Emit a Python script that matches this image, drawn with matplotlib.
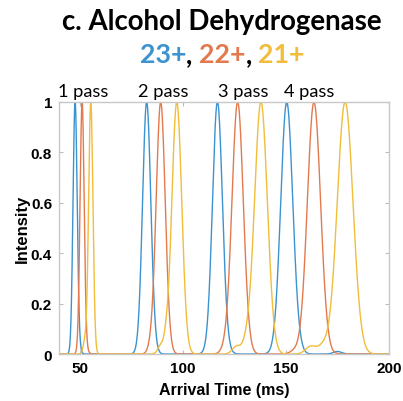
import numpy as np
import matplotlib
matplotlib.use("Agg")
import matplotlib.pyplot as plt

# ---- data ----
charges = ["23+", "22+", "21+"]
colors = ["#3b93d0", "#e27a4e", "#f1bd3a"]

# main peak centres (ms) per pass, per charge state
centers_23 = [47.8, 82.5, 116.8, 150.4]
centers_22 = [51.2, 89.3, 126.6, 163.6]
centers_21 = [55.4, 97.1, 137.9, 178.7]
# peak widths (sigma, ms)
sigmas_23 = [1.0, 2.0, 2.4, 2.9]
sigmas_22 = [1.0, 2.2, 2.75, 3.2]
sigmas_21 = [1.05, 2.4, 3.1, 3.8]
# small shoulders: centre, height, width
shoulders_23 = [(49.5, 0.02, 1.0), (86.0, 0.01, 1.5), (121.0, 0.01, 2.0), (156.0, 0.012, 2.0), (175.0, 0.01, 2.0)]
shoulders_22 = [(53.5, 0.01, 1.0), (84.5, 0.02, 1.5), (120.5, 0.015, 2.0), (154.0, 0.012, 2.0)]
shoulders_21 = [(52.5, 0.05, 0.8), (89.5, 0.035, 1.5), (92.0, 0.035, 1.0),
                (126.0, 0.03, 2.0), (131.0, 0.04, 2.0), (162.0, 0.03, 2.5), (168.0, 0.03, 2.5)]

pass_labels = ["1 pass", "2 pass", "3 pass", "4 pass"]
pass_label_x = [51.8, 90.5, 129.2, 161.3]

xticks = [50, 100, 150, 200]
yticks = [0, 0.2, 0.4, 0.6, 0.8, 1]
ytick_labels = ["0", "0.2", "0.4", "0.6", "0.8", "1"]

plt.rcParams['font.family'] = ['Lato', 'DejaVu Sans']

fig = plt.figure(figsize=(4.03, 4.02), dpi=100)
ax = fig.add_axes([0.1464, 0.1169, 0.819, 0.627])
renderer = fig.canvas.get_renderer()

x = np.linspace(40, 200, 3200)

def trace(centers, sigmas, shoulders):
    y = np.zeros_like(x)
    for c, s in zip(centers, sigmas):
        y = np.maximum(y, np.exp(-0.5 * ((x - c) / s) ** 2))
    for c, h, s in shoulders:
        y = y + h * np.exp(-0.5 * ((x - c) / s) ** 2)
    return y

series = [
    (centers_23, sigmas_23, shoulders_23),
    (centers_22, sigmas_22, shoulders_22),
    (centers_21, sigmas_21, shoulders_21),
]
for (c, s, sh), col in zip(series, colors):
    ax.plot(x, trace(c, s, sh), color=col, lw=1.0, clip_on=True)

ax.set_xlim(40, 200)
ax.set_ylim(0, 1)
ax.set_xticks(xticks)
ax.set_yticks(yticks)
ax.set_yticklabels(ytick_labels)
ax.tick_params(direction="in", length=3, color="#bdbdbd", labelsize=11,
               top=True, right=True, pad=5)
for lab in ax.get_xticklabels() + ax.get_yticklabels():
    lab.set_fontweight("bold")
    lab.set_fontfamily(["Liberation Sans", "DejaVu Sans"])
for sp in ax.spines.values():
    sp.set_color("#c8c8c8")
    sp.set_linewidth(1.0)

ax.set_xlabel("Arrival Time (ms)", fontsize=11.5, fontweight="bold",
              family=["Liberation Sans", "DejaVu Sans"], va="center")
ax.xaxis.set_label_coords(0.5, -0.139)
ax.set_ylabel("Intensity", fontsize=12, fontweight="bold",
              family=["Liberation Sans", "DejaVu Sans"], va="center")
ax.yaxis.set_label_coords(-0.112, 0.5)

def fit_width(t, target_px):
    w = t.get_window_extent(renderer).width
    t.set_fontsize(t.get_fontsize() * target_px / w)

for lab, px in zip(pass_labels, pass_label_x):
    t = ax.text(px, 1.024, lab, ha="center", va="baseline", fontsize=12,
                transform=ax.get_xaxis_transform())
    fit_width(t, 50)

title = fig.text(0.551, 1 - 30 / 402, "c. Alcohol Dehydrogenase", ha="center", va="baseline",
                 fontsize=20, fontweight="bold")
fit_width(title, 320)

# coloured subtitle
parts = [("23+", colors[0]), (", ", "black"), ("22+", colors[1]), (", ", "black"), ("21+", colors[2])]
texts = []
for s, col in parts:
    t = fig.text(0, 1 - 63 / 402, s, ha="left", va="baseline", fontsize=19.5,
                 fontweight="bold", color=col)
    texts.append(t)
widths = [t.get_window_extent(renderer).width for t in texts]
scale = 165 / sum(widths)
for t in texts:
    t.set_fontsize(19.5 * scale)
widths = [t.get_window_extent(renderer).width for t in texts]
total = sum(widths)
start = 0.552 * fig.bbox.width - total / 2
for t, w in zip(texts, widths):
    t.set_x(start / fig.bbox.width)
    start += w

fig.savefig("out.png", dpi=100)
